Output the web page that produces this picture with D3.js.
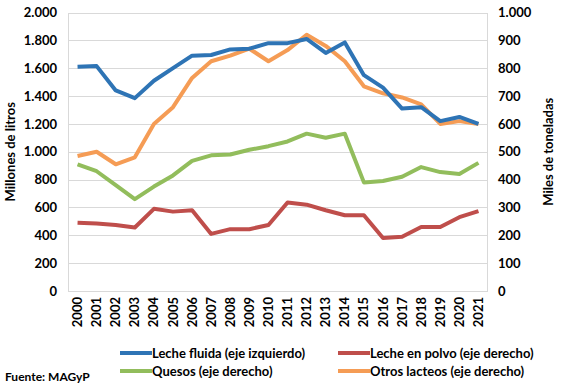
<!DOCTYPE html>
<html lang="es">
<head>
    <meta charset="UTF-8">
    <title>Lacteos</title>
    <script src="https://d3js.org/d3.v7.min.js"></script>
    <style>
        body { margin: 0; background: #fff; }
        text { font-family: Lato, "Open Sans", sans-serif; font-weight: bold; fill: #000; }
    </style>
</head>
<body>
    <script>
        var years = ["2000","2001","2002","2003","2004","2005","2006","2007","2008","2009","2010",
                     "2011","2012","2013","2014","2015","2016","2017","2018","2019","2020","2021"];
        // millones de litros (eje izquierdo)
        var lecheFluida = [1610,1615,1440,1385,1510,1600,1690,1695,1735,1740,1780,
                           1780,1810,1710,1785,1550,1460,1310,1320,1220,1250,1200];
        // miles de toneladas (eje derecho)
        var lechePolvo = [245,242,237,228,295,285,290,205,222,222,237,
                          318,310,290,272,272,190,195,230,230,265,287];
        var quesos = [455,430,380,330,375,415,467,487,490,507,520,
                      537,565,550,565,390,395,410,445,427,420,460];
        var otros = [485,500,455,480,600,660,765,825,845,870,825,
                     865,920,880,825,735,710,695,670,600,610,600];
        var leftTicks = [0,200,400,600,800,1000,1200,1400,1600,1800,2000];
        var rightTicks = [0,100,200,300,400,500,600,700,800,900,1000];

        var w = 561, h = 383;
        // plot area (avoid "top", it is window.top)
        var pLeft = 68, pRight = 488, pTop = 12.5, pBottom = 291;

        var svg = d3.select("body").append("svg")
                    .attr("width", w).attr("height", h);

        var x = d3.scaleBand().domain(years).range([pLeft, pRight]);
        var yL = d3.scaleLinear().domain([0, 2000]).range([pBottom, pTop]);
        var yR = d3.scaleLinear().domain([0, 1000]).range([pBottom, pTop]);
        var fmt = d3.format(",");
        var numFmt = function(d) { return fmt(d).replace(/,/g, "."); };

        // grid
        svg.append("g").selectAll("line").data(leftTicks).join("line")
            .attr("x1", pLeft).attr("x2", pRight)
            .attr("y1", d => Math.round(yL(d)) + 0.5).attr("y2", d => Math.round(yL(d)) + 0.5)
            .attr("stroke", "#d9d9d9").attr("stroke-width", 1);
        svg.append("rect")
            .attr("x", pLeft + 0.5).attr("y", Math.round(pTop) + 0.5)
            .attr("width", pRight - pLeft - 1).attr("height", Math.round(pBottom) - Math.round(pTop))
            .attr("fill", "none").attr("stroke", "#d9d9d9");

        // axes
        var axL = svg.append("g").attr("transform", "translate(" + (pLeft - 11) + ",0)")
            .call(d3.axisLeft(yL).tickValues(leftTicks).tickFormat(numFmt).tickSize(0).tickPadding(0));
        var axR = svg.append("g").attr("transform", "translate(" + (pRight + 10) + ",0)")
            .call(d3.axisRight(yR).tickValues(rightTicks).tickFormat(numFmt).tickSize(0).tickPadding(0));
        var axX = svg.append("g").attr("transform", "translate(0," + (pBottom + 6) + ")")
            .call(d3.axisBottom(x).tickSize(0).tickPadding(0));
        axX.selectAll("text")
            .attr("transform", "rotate(-90)")
            .attr("x", 0).attr("y", 0).attr("dx", 0).attr("dy", "0.35em")
            .style("text-anchor", "end");
        [axL, axR, axX].forEach(function(a) {
            a.select(".domain").remove();
            a.selectAll("text").style("font-size", "13px").style("font-family", "Lato, sans-serif").style("font-weight", "bold");
        });

        // axis titles
        svg.append("text").attr("transform", "translate(10," + ((pTop + pBottom) / 2) + ") rotate(-90)")
            .attr("text-anchor", "middle").attr("dy", "0.35em").style("font-size", "13px")
            .text("Millones de litros");
        svg.append("text").attr("transform", "translate(548," + ((pTop + pBottom) / 2) + ") rotate(-90)")
            .attr("text-anchor", "middle").attr("dy", "0.35em").style("font-size", "13px")
            .text("Miles de toneladas");

        var series = [
            { name: "Otros lacteos (eje derecho)", values: otros, scale: yR, color: "#f59c55" },
            { name: "Quesos (eje derecho)", values: quesos, scale: yR, color: "#92bd5c" },
            { name: "Leche en polvo (eje derecho)", values: lechePolvo, scale: yR, color: "#bf4e4b" },
            { name: "Leche fluida (eje izquierdo)", values: lecheFluida, scale: yL, color: "#2e74b5" }
        ];

        series.forEach(function(s) {
            var line = d3.line()
                .x((d, i) => x(years[i]) + x.bandwidth() / 2)
                .y(d => s.scale(d));
            svg.append("path").datum(s.values)
                .attr("d", line).attr("fill", "none")
                .attr("stroke", s.color).attr("stroke-width", 4)
                .attr("stroke-linejoin", "round");
        });

        // legend
        var legendItems = [
            { s: series[3], x: 120, y: 353 },
            { s: series[2], x: 338, y: 353 },
            { s: series[1], x: 120, y: 371 },
            { s: series[0], x: 338, y: 371 }
        ];
        var lg = svg.append("g").selectAll("g").data(legendItems).join("g")
            .attr("transform", d => "translate(" + d.x + "," + d.y + ")");
        lg.append("line").attr("x1", 0).attr("x2", 32).attr("y1", 0).attr("y2", 0)
            .attr("stroke", d => d.s.color).attr("stroke-width", 4);
        lg.append("text").attr("x", 32).attr("dy", "0.35em").style("font-size", "13px")
            .text(d => d.s.name);

        svg.append("text").attr("x", 5).attr("y", 377).attr("dy", "0.35em")
            .style("font-size", "12px").text("Fuente: MAGyP");
    </script>
</body>
</html>
